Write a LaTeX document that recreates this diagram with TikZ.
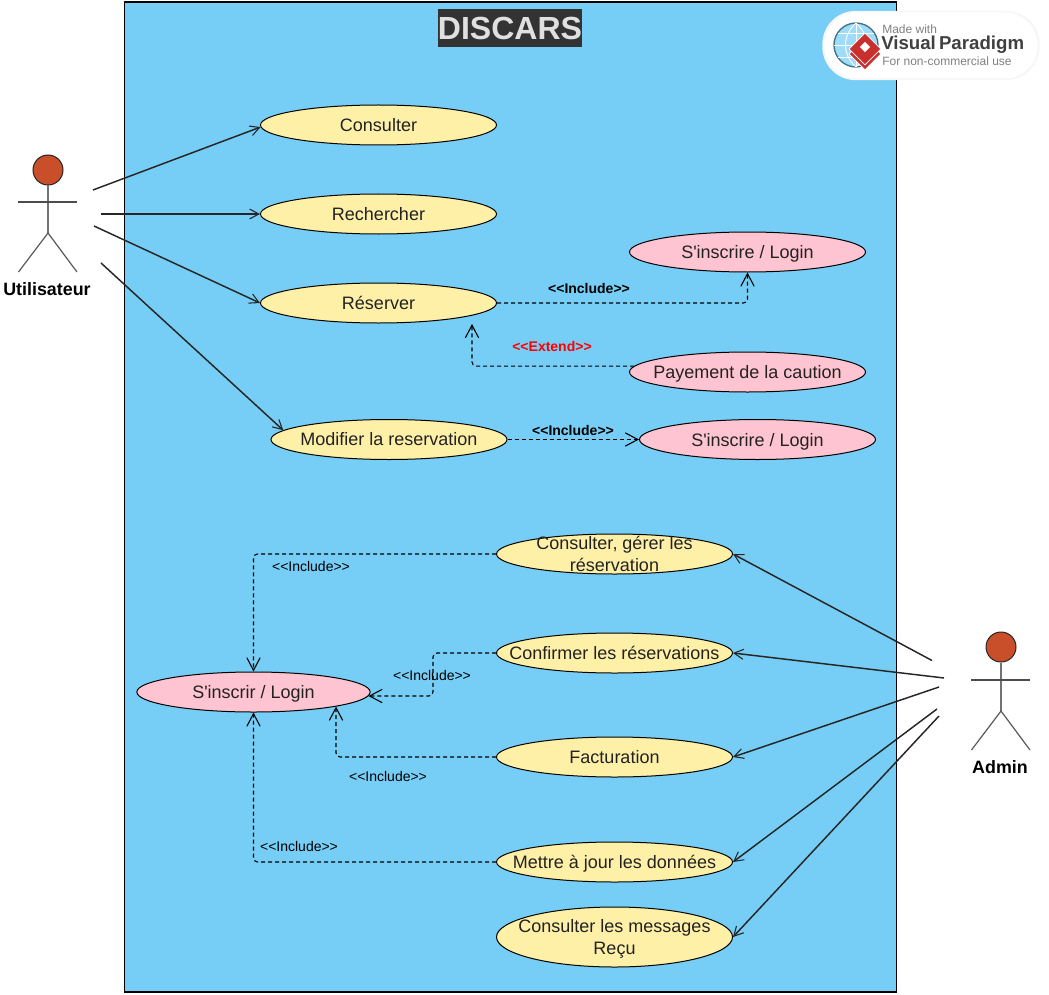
\documentclass[tikz,border=0pt]{standalone}
\usepackage{fontspec}
\newfontfamily\casefont{Liberation Sans}
\usetikzlibrary{positioning}
\usetikzlibrary{shapes.geometric}
\usetikzlibrary{arrows.meta}
\definecolor{systemblue}{HTML}{76CDF5}
\definecolor{caseyellow}{HTML}{FFF0A8}
\definecolor{casepink}{HTML}{FFC4D2}
\definecolor{headred}{HTML}{C84F2A}
\definecolor{inktext}{HTML}{222222}
\definecolor{markred}{HTML}{C8302E}
\tikzset{usecase/.style={ellipse,draw=black,fill=caseyellow,text=inktext,line width=0.75pt,
inner xsep=-40pt,inner ysep=-12pt,minimum width=177pt,minimum height=30pt,align=center,font=\casefont\fontsize{13.5}{16.9}\selectfont}}
\tikzset{usecasepink/.style={usecase,fill=casepink,text depth=0pt}}
\tikzset{actorhead/.style={circle,draw=black!85,fill=headred,line width=0.75pt,inner sep=0pt,minimum size=22.5pt}}
\tikzset{actorname/.style={inner sep=0pt,font=\casefont\bfseries\fontsize{13.4}{16}\selectfont}}
\tikzset{assoc/.style={line width=1.1pt,draw=black!85,-{Straight Barb[length=7pt,width=7.5pt,line width=0.8pt]}}}
\tikzset{incl/.style={line width=0.8pt,dash pattern=on 3pt off 2.25pt,rounded corners=3pt,
-{Straight Barb[length=9.5pt,width=10pt,line width=0.8pt]}}}
\tikzset{incllabel/.style={inner sep=0pt,font=\casefont\fontsize{10.5}{12}\selectfont}}
\tikzset{incllabelbold/.style={inner sep=0pt,font=\casefont\bfseries\fontsize{10.5}{12}\selectfont}}

\begin{document}
\begin{tikzpicture}[x=0.75pt,y=-0.75pt]
    \useasboundingbox (0,0) rectangle (1049,995);

    % system box and title
    \node[rectangle,draw=black,fill=systemblue,line width=0.9pt,inner sep=0pt,
        minimum width=579pt,minimum height=742.5pt] (systemBox) at (510.5,497) {};
    \node[rectangle,fill=black!80,text=black!12,inner sep=0pt,minimum width=108pt,minimum height=28pt,
        font=\casefont\bfseries\fontsize{24}{28}\selectfont] (systemTitle) at (510,28) {DISCARS};

    % watermark
    \node[rectangle,rounded corners=25pt,fill=black!3,inner sep=0pt,minimum width=163pt,minimum height=52pt] (markHalo) at (931,45.5) {};
    \node[rectangle,rounded corners=25pt,fill=white,inner sep=0pt,minimum width=160pt,minimum height=49.5pt] (markPill) at (931,45.5) {};
    \node[circle,draw=black!45!systemblue,fill=systemblue!70,line width=1pt,inner sep=0pt,minimum size=33pt] (markGlobe) at (856,45) {};
    \draw[white,line width=0.7pt] (834,45) -- (878,45) (838,33) -- (874,33) (838,57) -- (874,57) (856,23) -- (856,67);
    \draw[white,line width=0.7pt] (856,23) .. controls (842,35) and (842,55) .. (856,67);
    \draw[white,line width=0.7pt] (856,23) .. controls (870,35) and (870,55) .. (856,67);
    \node[diamond,fill=markred,draw=white,line width=0.5pt,inner sep=0pt,minimum size=24pt] (markDiamondLow) at (865,54) {};
    \node[diamond,fill=markred,draw=white,line width=0.5pt,inner sep=0pt,minimum size=24pt] (markDiamond) at (865,49) {};
    \node[diamond,fill=white,inner sep=0pt,minimum size=8pt] (markDiamondIn) at (865,47) {};
    \node[inner sep=0pt,anchor=west,text=black!50,font=\casefont\fontsize{9}{10}\selectfont] (markTop) at (882,29) {Made with};
    \node[inner sep=0pt,anchor=west,text=black!75,font=\casefont\bfseries\fontsize{14}{18}\selectfont] (markName) at (881,45) {Visual\,Paradigm};
    \node[inner sep=0pt,anchor=west,text=black!50,font=\casefont\fontsize{9}{10}\selectfont] (markBottom) at (882,61) {For non-commercial use};

    % use cases of Utilisateur
    \node[usecase] (caseConsult) at (378.5,125) {Consulter};
    \node[usecase] (caseSearch) at (378.5,214) {Rechercher};
    \node[usecase] (caseBook) at (378.5,303) {Réserver};
    \node[usecase] (caseModify) at (389,439.5) {Modifier la reservation};
    \node[usecasepink] (caseLoginA) at (747.5,252) {S'inscrire / Login};
    \node[usecasepink] (casePay) at (747.5,372) {Payement de la caution};
    \node[usecasepink] (caseLoginB) at (757.5,439.5) {S'inscrire / Login};

    % use cases of Admin
    \node[usecase] (caseManage) at (614.5,554) {Consulter, gérer les\\réservation};
    \node[usecase] (caseConfirm) at (614.5,653) {Confirmer les réservations};
    \node[usecase] (caseBill) at (614.5,757) {Facturation};
    \node[usecase,text depth=0pt] (caseUpdate) at (614.5,862) {Mettre à jour les données};
    \node[usecase,minimum height=45pt] (caseMessages) at (614.5,937) {Consulter les messages\\Re\smash{ç}u};
    \node[usecasepink,minimum width=175pt] (caseLogin) at (253.5,692) {S'inscrir / Login};

    % actor Utilisateur
    \node[actorhead] (userHead) at (48,170) {};
    \coordinate (userHip) at (48,233);
    \draw[line width=1.3pt,black!55] (userHead) -- (userHip);
    \draw[line width=0.8pt,black!70] (18,202) -- (77,202);
    \draw[line width=0.9pt,black!65] (18.5,272) -- (userHip) -- (77,272);
    \node[actorname] (userName) at (47,289) {Utilisateur};

    % actor Admin
    \node[actorhead] (adminHead) at (1001,647) {};
    \coordinate (adminHip) at (1001,711);
    \draw[line width=1.3pt,black!55] (adminHead) -- (adminHip);
    \draw[line width=0.8pt,black!70] (971,680) -- (1030,680);
    \draw[line width=0.9pt,black!65] (971.5,750) -- (adminHip) -- (1030,750);
    \node[actorname] (adminName) at (1000,767) {Admin};

    % free ends beside the actors
    \coordinate (userA) at (93,190);
    \coordinate (userB) at (101,214);
    \coordinate (userC) at (94,226);
    \coordinate (userD) at (101,263);
    \coordinate (adminA) at (932,660.5);
    \coordinate (adminB) at (944,678);
    \coordinate (adminC) at (939,687);
    \coordinate (adminD) at (937,709);
    \coordinate (adminE) at (939,716);

    \draw[assoc] (userA) -- (caseConsult.181);
    \draw[assoc] (userB) -- (caseSearch.west);
    \draw[assoc] (userC) -- (caseBook.west);
    \draw[assoc] (userD) -- (caseModify.175);

    \draw[assoc] (adminA) -- (caseManage.east);
    \draw[assoc] (adminB) -- (caseConfirm.east);
    \draw[assoc] (adminC) -- (caseBill.east);
    \draw[assoc] (adminD) -- (caseUpdate.east);
    \draw[assoc] (adminE) -- (caseMessages.east);

    % include and extend
    \coordinate (extendTip) at (472,324);
    \draw[incl] (caseBook.east) -| (caseLoginA.south);
    \draw[incl] (casePay.177) -| (extendTip);
    \draw[incl] (caseModify.east) -- (caseLoginB.west);
    \draw[incl] (caseManage.west) -| (caseLogin.north);
    \draw[incl] (caseConfirm.west) -- ++(-63,0) |- (caseLogin.358);
    \draw[incl] (caseBill.west) -| (caseLogin.350);
    \draw[incl] (caseUpdate.west) -| (caseLogin.south);

    \node[incllabelbold] (labelInclA) at (589,288) {<<Include>>};
    \node[incllabelbold,text=red] (labelExt) at (552,346) {<<Extend>>};
    \node[incllabelbold] (labelInclB) at (573,430) {<<Include>>};
    \node[incllabel] (labelInclC) at (311,566) {<<Include>>};
    \node[incllabel] (labelInclD) at (432,675) {<<Include>>};
    \node[incllabel] (labelInclE) at (388,776) {<<Include>>};
    \node[incllabel] (labelInclF) at (299,846) {<<Include>>};

\end{tikzpicture}
\end{document}
